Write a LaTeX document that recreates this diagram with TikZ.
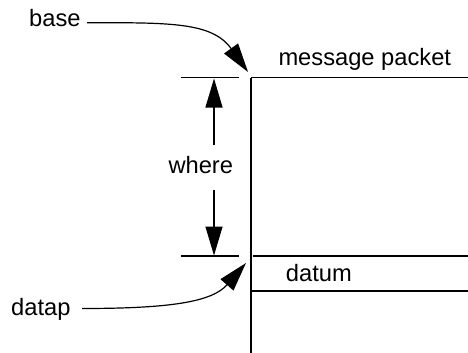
\documentclass[tikz,border=0pt]{standalone}
\usepackage{fontspec}
\setmainfont{Liberation Sans}
\usetikzlibrary{arrows.meta}
\begin{document}
\begin{tikzpicture}[x=1pt,y=-1pt,
  rule/.style={line width=1.2pt},
  pointer/.style={line width=1.2pt,-{Triangle[length=29pt,width=17pt]}},
  lbl/.style={inner sep=0pt,anchor=base west,font=\fontsize{23.7}{28}\selectfont}]
  \useasboundingbox (0,0) rectangle (468,353);

  % packet frame
  \coordinate (vtop) at (251,77.5);
  \coordinate (vbot) at (251,353);
  \coordinate (topR) at (468,77.5);
  \coordinate (midL) at (253,256);
  \coordinate (midR) at (468,256);
  \coordinate (lowL) at (251,291);
  \coordinate (lowR) at (468,291);
  \draw[rule] (vtop) -- (vbot);
  \draw[rule] (vtop) -- (topR);
  \draw[rule] (midL) -- (midR);
  \draw[rule] (lowL) -- (lowR);

  % dimension ticks
  \coordinate (tickTL) at (181,77.5);
  \coordinate (tickTR) at (239,77.5);
  \coordinate (tickBL) at (181,256);
  \coordinate (tickBR) at (239,256);
  \draw[rule] (tickTL) -- (tickTR);
  \draw[rule] (tickBL) -- (tickBR);

  % labels
  \node[lbl] (msg)   at (278.3,65)    {message packet};
  \node[lbl] (datum) at (285.7,281.7) {datum};
  \node[lbl] (where) at (168.3,173.3) {where};
  \node[lbl] (base)  at (29,26.7)     {base};
  \node[lbl] (datap) at (11,315.7)    {datap};

  % dimension arrow for "where"
  \coordinate (dimTopTip) at (214,78.5);
  \coordinate (dimTopEnd) at (214,145);
  \coordinate (dimBotEnd) at (214,190);
  \coordinate (dimBotTip) at (214,255.5);
  \draw[pointer] (dimTopEnd) -- (dimTopTip);
  \draw[pointer] (dimBotEnd) -- (dimBotTip);

  % base pointer
  \coordinate (baseTail) at (87,22.7);
  \coordinate (baseTip) at (248,72);
  \draw[pointer] (baseTail) .. controls (170,22.7) and (212,22) .. (baseTip);

  % datap pointer
  \coordinate (datapTail) at (82,308.5);
  \coordinate (datapTip) at (246,263);
  \draw[pointer] (datapTail) .. controls (170,308.5) and (212,302) .. (datapTip);
\end{tikzpicture}
\end{document}
